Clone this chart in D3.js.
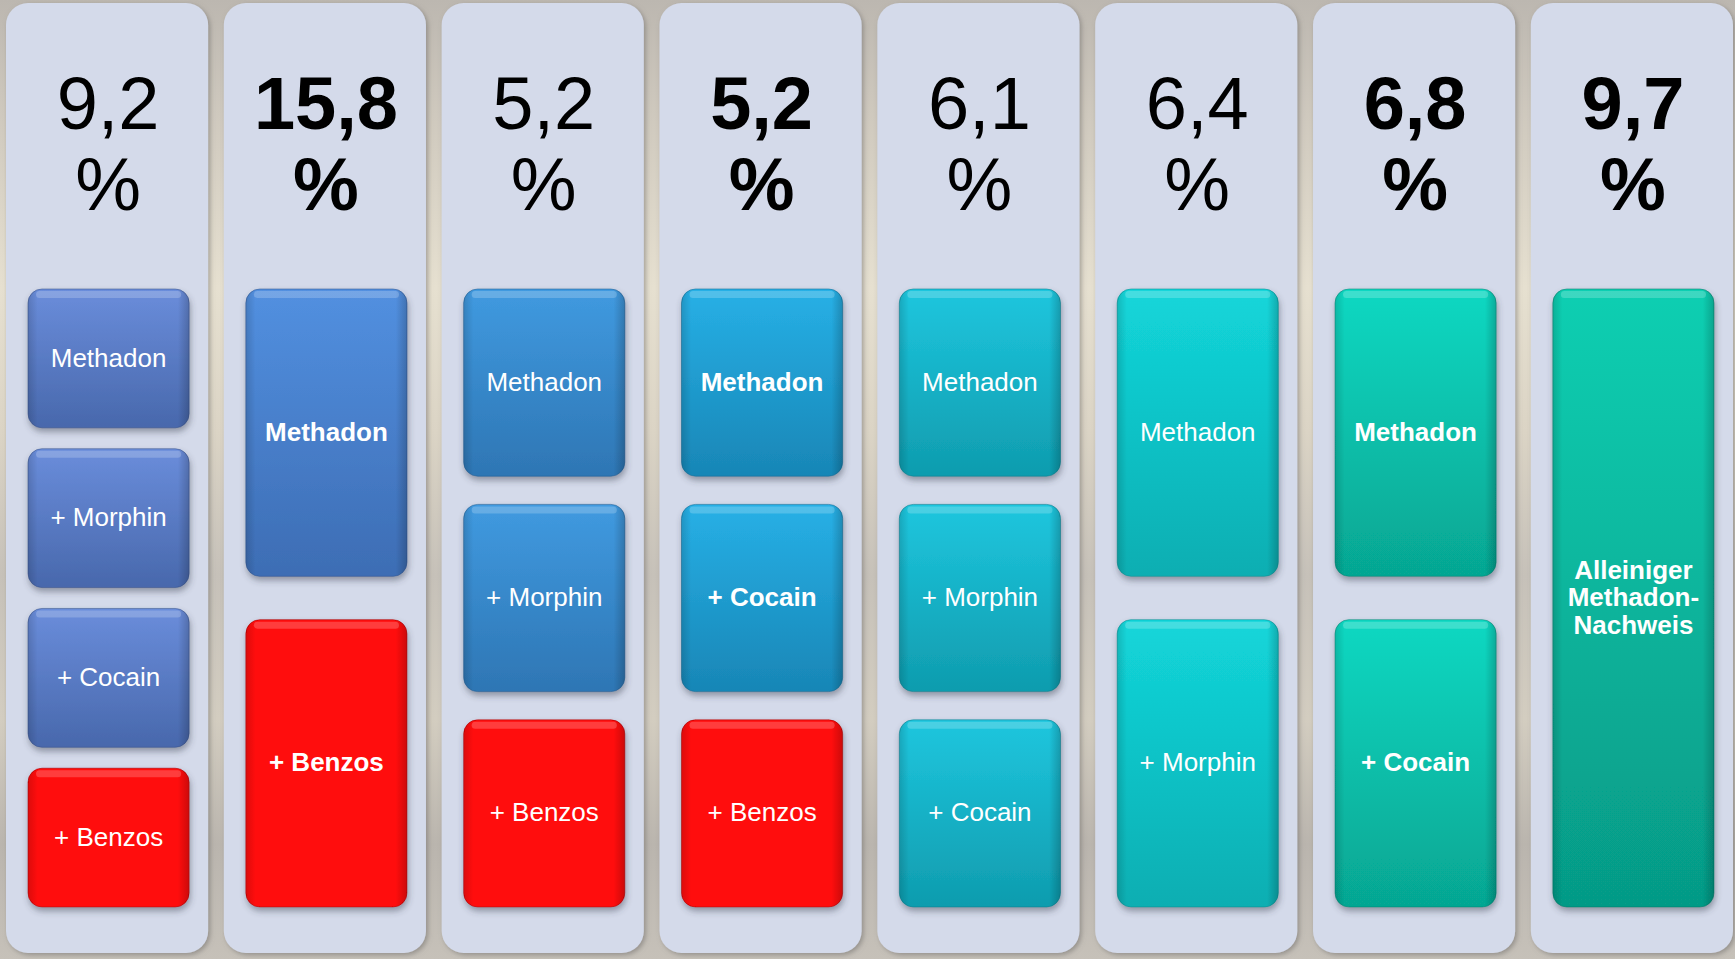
<!DOCTYPE html>
<html>
<head>
<meta charset="utf-8">
<script src="https://cdn.jsdelivr.net/npm/d3@7"></script>
<style>
  html, body { margin: 0; padding: 0; overflow: hidden; background: #d8d2c6; }
  svg { display: block; }
</style>
</head>
<body>
<svg id="chart"></svg>
<script>
// Share of cases per substance combination (percent)
const shares = [9.2, 15.8, 5.2, 5.2, 6.1, 6.4, 6.8, 9.7];
const shareBold = [false, true, false, true, false, false, true, true];

// Substances detected together with methadone, one list per column
const combos = [
  ["Methadon", "+ Morphin", "+ Cocain", "+ Benzos"],
  ["Methadon", "+ Benzos"],
  ["Methadon", "+ Morphin", "+ Benzos"],
  ["Methadon", "+ Cocain", "+ Benzos"],
  ["Methadon", "+ Morphin", "+ Cocain"],
  ["Methadon", "+ Morphin"],
  ["Methadon", "+ Cocain"],
  ["Alleiniger\nMethadon-\nNachweis"]
];
const comboBold = [
  [false, false, false, false],
  [true, true],
  [false, false, false],
  [true, true, false],
  [false, false, false],
  [false, false],
  [true, true],
  [true]
];

// Column tints, running from steel blue to teal
const tintTop    = ["#6a8ddb", "#5290e0", "#409ae0", "#27b0e6", "#1ec6de", "#13d6da", "#0cd8c2", "#0bcfb2"];
const tintBottom = ["#4868ac", "#3d6db4", "#2e76b4", "#1886b6", "#0f9cae", "#0aaeb2", "#06a692", "#069a86"];
const benzoFill = "#ff0a0a";

const W = 1735, H = 959;
const svg = d3.select("#chart").attr("width", W).attr("height", H);
const defs = svg.append("defs");

// backdrop
const bg = defs.append("linearGradient").attr("id", "bg").attr("x1", 0).attr("y1", 0).attr("x2", 0).attr("y2", 1);
[[0, "#bcb7b0"], [0.12, "#cfc9be"], [0.3, "#e6e0d0"], [0.45, "#dbd4c5"], [0.6, "#c6c1b9"],
 [0.75, "#d3cdc0"], [0.88, "#bab5ae"], [1, "#c6c1b9"]].forEach(([o, c]) =>
  bg.append("stop").attr("offset", o).attr("stop-color", c));
svg.append("rect").attr("width", W).attr("height", H).attr("fill", "url(#bg)");

// shadows
const panelShadow = defs.append("filter").attr("id", "panelShadow")
  .attr("x", "-10%").attr("y", "-5%").attr("width", "125%").attr("height", "115%");
panelShadow.append("feDropShadow").attr("dx", 2).attr("dy", 2).attr("stdDeviation", 2.5)
  .attr("flood-color", "#6d6a66").attr("flood-opacity", 0.55);

const boxShadow = defs.append("filter").attr("id", "boxShadow")
  .attr("x", "-10%").attr("y", "-10%").attr("width", "125%").attr("height", "130%");
boxShadow.append("feDropShadow").attr("dx", 1).attr("dy", 4).attr("stdDeviation", 3)
  .attr("flood-color", "#39424f").attr("flood-opacity", 0.45);

function vGrad(id, top, bottom) {
  const g = defs.append("linearGradient").attr("id", id)
    .attr("x1", 0).attr("y1", 0).attr("x2", 0).attr("y2", 1);
  g.append("stop").attr("offset", 0).attr("stop-color", top);
  g.append("stop").attr("offset", 1).attr("stop-color", bottom);
}
tintTop.forEach((c, i) => vGrad("tint" + i, c, tintBottom[i]));

// darker side edges of each tile
const sides = defs.append("linearGradient").attr("id", "sides").attr("x1", 0).attr("x2", 1).attr("y1", 0).attr("y2", 0);
[[0, 0.14], [0.06, 0.0], [0.93, 0.0], [1, 0.2]].forEach(([o, a]) =>
  sides.append("stop").attr("offset", o).attr("stop-color", "#000").attr("stop-opacity", a));

const x = d3.scaleBand().domain(d3.range(shares.length)).range([6, 1733]).paddingInner(0.072);
const fmt = d3.formatLocale({ decimal: ",", thousands: ".", grouping: [3], currency: ["", "€"] }).format(".1f");

const cols = svg.selectAll("g.col").data(shares).join("g").attr("class", "col")
  .attr("transform", (d, i) => `translate(${x(i)},0)`);

cols.append("rect")
  .attr("y", 3).attr("width", x.bandwidth()).attr("height", 950)
  .attr("rx", 22).attr("fill", "#d4daea")
  .attr("filter", "url(#panelShadow)");

const cx = x.bandwidth() / 2 + 1;
const pct = cols.append("text")
  .attr("text-anchor", "middle")
  .attr("font-family", "Liberation Sans, Arial, sans-serif")
  .attr("font-size", 74)
  .attr("font-weight", (d, i) => shareBold[i] ? "bold" : "normal")
  .attr("fill", "#000");
pct.append("tspan").attr("x", cx).attr("y", 129).text(d => fmt(d));
pct.append("tspan").attr("x", cx).attr("y", 210).text("%");

// tiles
cols.each(function (d, i) {
  const g = d3.select(this);
  const items = combos[i];
  const y = d3.scaleBand().domain(d3.range(items.length)).range([289, 907])
    .paddingInner(items.length > 1 ? 0.131 : 0);
  const bx = 22, bw = x.bandwidth() - 41, bh = y.bandwidth();

  const tiles = g.selectAll("g.tile").data(items).join("g").attr("class", "tile")
    .attr("transform", (t, k) => `translate(${bx},${y(k)})`);

  const isBenzo = t => t.indexOf("Benzos") >= 0;

  tiles.append("rect")
    .attr("width", bw).attr("height", bh).attr("rx", 14)
    .attr("fill", t => isBenzo(t) ? benzoFill : `url(#tint${i})`)
    .attr("stroke", t => d3.color(isBenzo(t) ? "#d00000" : tintBottom[i]).darker(0.6))
    .attr("stroke-opacity", 0.55).attr("stroke-width", 1)
    .attr("filter", "url(#boxShadow)");

  tiles.append("rect")
    .attr("width", bw).attr("height", bh).attr("rx", 14)
    .attr("fill", "url(#sides)");

  // top bevel highlight
  tiles.append("rect")
    .attr("x", 8).attr("y", 2).attr("width", bw - 16).attr("height", 7).attr("rx", 3.5)
    .attr("fill", "#fff").attr("fill-opacity", 0.2);

  tiles.append("text")
    .attr("text-anchor", "middle")
    .attr("font-family", "Liberation Sans, Arial, sans-serif")
    .attr("font-size", 26)
    .attr("font-weight", (t, k) => comboBold[i][k] ? "bold" : "normal")
    .attr("fill", "#fff")
    .each(function (t) {
      const lines = t.split("\n");
      const lh = 27.5;
      const t0 = bh / 2 - (lines.length - 1) * lh / 2 - 1;
      d3.select(this).selectAll("tspan").data(lines).join("tspan")
        .attr("x", bw / 2).attr("y", (l, j) => t0 + j * lh).attr("dy", "0.35em")
        .text(l => l);
    });
});
</script>
</body>
</html>
